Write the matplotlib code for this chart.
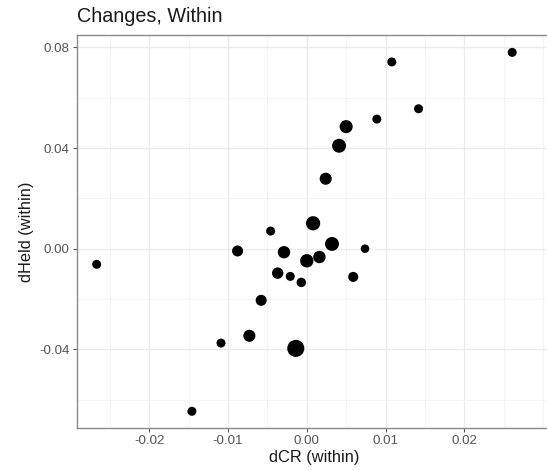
import numpy as np
import matplotlib
matplotlib.use("Agg")
import matplotlib.pyplot as plt
from matplotlib.ticker import MultipleLocator

plt.rcParams['font.family'] = ['Liberation Sans', 'DejaVu Sans']

# within-unit changes: dCR vs dHeld, point weight sets marker area
d_cr = [0.0261, 0.0108, 0.0142, 0.0089, 0.0050, 0.0041, 0.0024, -0.0046,
        0.0008, 0.0032, 0.0074, -0.0088, -0.0029, 0.0016, 0.0000, -0.0267,
        -0.0037, -0.0021, 0.0059, -0.0007, -0.0058, -0.0109, -0.0073,
        -0.0014, -0.0146]
d_held = [0.0780, 0.0742, 0.0556, 0.0515, 0.0485, 0.0409, 0.0278, 0.0070,
          0.0101, 0.0019, 0.0000, -0.0009, -0.0014, -0.0033, -0.0048, -0.0062,
          -0.0097, -0.0110, -0.0112, -0.0134, -0.0205, -0.0375, -0.0346,
          -0.0396, -0.0646]
weight = [1.0, 1.0, 1.0, 1.0, 2.1, 2.4, 1.8, 1.0,
          2.5, 2.4, 0.9, 1.5, 1.9, 1.9, 2.2, 1.0,
          1.6, 1.0, 1.25, 1.1, 1.5, 1.0, 1.8,
          3.6, 1.0]

x_ticks = [-0.02, -0.01, 0.00, 0.01, 0.02]
y_ticks = [-0.04, 0.00, 0.04, 0.08]

W, H = 547, 470
fig = plt.figure(figsize=(W / 100, H / 100), dpi=100)
ax = fig.add_axes([76.7 / W, 41.7 / H, (551 - 76.7) / W, (428.3 - 35) / H])

# marker diameter in pixels grows with sqrt(weight)
diam_px = 9.0 * np.sqrt(np.array(weight))
sizes = (diam_px * 72 / 100) ** 2
ax.scatter(d_cr, d_held, s=sizes, color='black', linewidths=0, zorder=3)

ax.set_xlim(-0.02924, 0.03103)
ax.set_ylim(-0.07135, 0.0849)
ax.set_xticks(x_ticks)
ax.set_yticks(y_ticks)
ax.set_xticklabels([f"{v:.2f}" for v in x_ticks])
ax.set_yticklabels([f"{v:.2f}" for v in y_ticks])
ax.xaxis.set_minor_locator(MultipleLocator(0.005))
ax.yaxis.set_minor_locator(MultipleLocator(0.02))

ax.grid(which='major', color='#ebebeb', linewidth=1.0, zorder=0)
ax.grid(which='minor', color='#f4f4f4', linewidth=0.6, zorder=0)
ax.set_axisbelow(True)

for sp in ax.spines.values():
    sp.set_color('#8a8a8a')
    sp.set_linewidth(1.0)
ax.spines['right'].set_visible(False)

ax.tick_params(which='major', length=3, width=0.8, color='#555555',
               labelsize=9.6, labelcolor='#555555', pad=2)
ax.tick_params(which='minor', length=0)

ax.set_xlabel('dCR (within)', fontsize=11.8, color='#1a1a1a', labelpad=2)
ax.set_ylabel('dHeld (within)', fontsize=11.8, color='#1a1a1a', labelpad=4)
fig.text(77 / W, 1 - 17 / H, 'Changes, Within', fontsize=14.2, color='#1a1a1a',
         ha='left', va='center')

fig.savefig('out.png', dpi=100)
